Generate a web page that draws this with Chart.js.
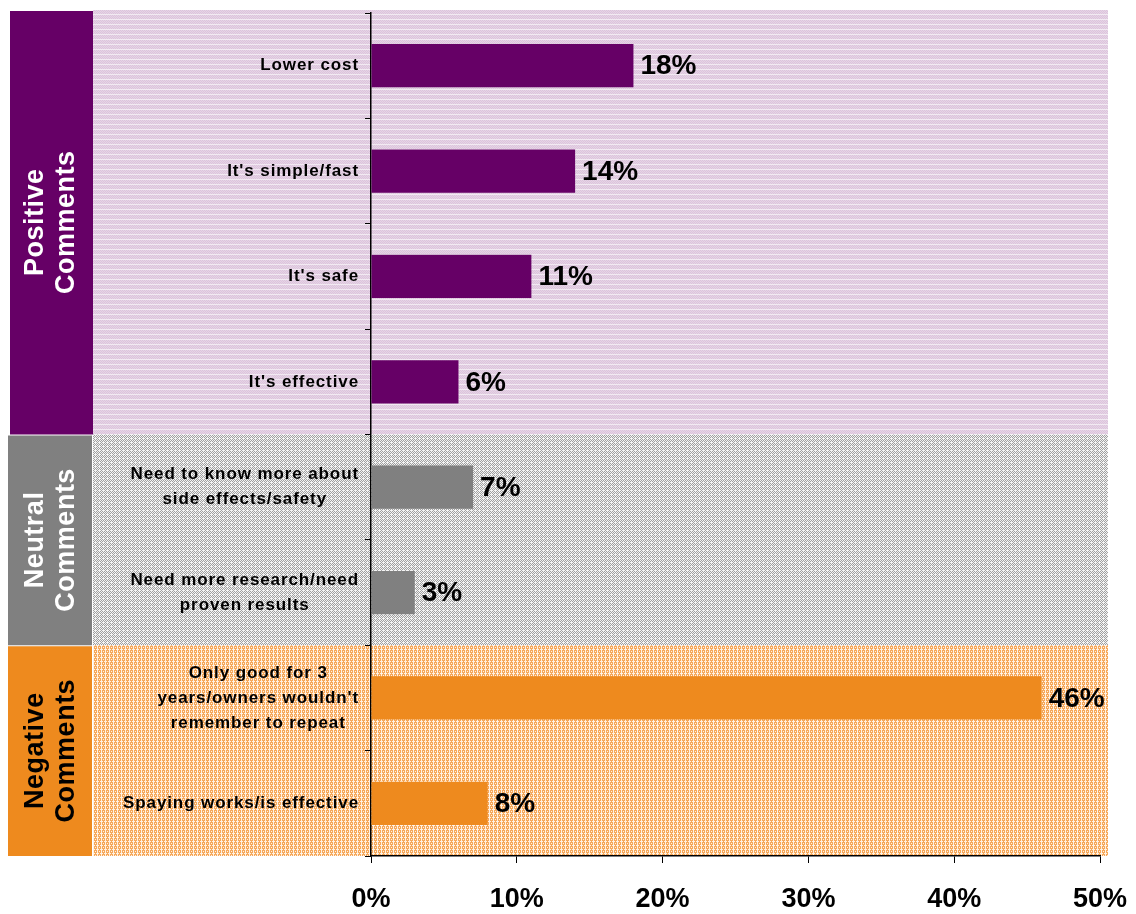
<!DOCTYPE html>
<html lang="en">
<head>
  <meta charset="UTF-8">
  <title>Comments</title>
  <script src="https://cdn.jsdelivr.net/npm/chart.js"></script>
  <style>
    html, body { margin: 0; padding: 0; background: #fff; }
    .wrap { width: 1136px; height: 914px; position: relative; }
  </style>
</head>
<body>
  <div class="wrap"><canvas id="chart"></canvas></div>
  <script>
    // data
    const categories = [
      ['Lower cost'],
      ["It's simple/fast"],
      ["It's safe"],
      ["It's effective"],
      ['Need to know more about', 'side effects/safety'],
      ['Need more research/need', 'proven results'],
      ['Only good for 3', "years/owners wouldn't", 'remember to repeat'],
      ['Spaying works/is effective']
    ];
    const values = [18, 14, 11, 6, 7, 3, 46, 8];
    const categoryGroup = [0, 0, 0, 0, 1, 1, 2, 2];
    const groupNames = ['Positive', 'Neutral', 'Negative'];
    const groupSuffix = 'Comments';
    const xTicks = [0, 10, 20, 30, 40, 50];

    const barColors = ['#660066', '#808080', '#ee8a1e'];
    const boxText = ['#ffffff', '#ffffff', '#000000'];

    // small tiles to imitate the dotted fills
    function makePattern(ctx, rows, colors) {
      const c = document.createElement('canvas');
      c.width = rows[0].length; c.height = rows.length;
      const g = c.getContext('2d');
      rows.forEach((r, y) => {
        for (let x = 0; x < r.length; x++) {
          g.fillStyle = colors[r[x]];
          g.fillRect(x, y, 1, 1);
        }
      });
      return ctx.createPattern(c, 'repeat');
    }

    const canvas = document.getElementById('chart');
    const ctx = canvas.getContext('2d');
    const fills = [
      makePattern(ctx, ['0101', '1010', '0101', '1010', '2222'],
        ['#dcc4dc', '#e6d4e6', '#f2eaf2']),
      makePattern(ctx, ['0101', '1010', '0100', '1010'], ['#f4f4f4', '#a0a0a0']),
      makePattern(ctx, ['0100', '1110', '0100', '0101'], ['#f6a85a', '#fff1e2'])
    ];

    const bandPlugin = {
      id: 'bands',
      beforeDraw(chart) {
        const c = chart.ctx, y = chart.scales.y;
        const half = (y.getPixelForValue(1) - y.getPixelForValue(0)) / 2;
        groupNames.forEach((name, g) => {
          const idx = categoryGroup.map((v, i) => v === g ? i : -1).filter(i => i >= 0);
          const top = y.getPixelForValue(idx[0]) - half;
          const bot = y.getPixelForValue(idx[idx.length - 1]) + half;
          const t = g === 0 ? top - 3 : top;
          c.save();
          c.fillStyle = fills[g];
          c.fillRect(93, t, 1015, bot - t);
          c.fillStyle = barColors[g];
          c.fillRect(g === 0 ? 10 : 8, t + 1, g === 0 ? 83 : 84, bot - t - 1);
          // rotated group label
          c.translate(51, (t + bot) / 2);
          c.rotate(-Math.PI / 2);
          c.fillStyle = boxText[g];
          c.font = 'bold 27px "Liberation Sans", Arial, sans-serif';
          c.letterSpacing = '0.5px';
          c.textAlign = 'center';
          c.textBaseline = 'middle';
          c.fillText(name, 0, -15);
          c.fillText(groupSuffix, 0, 16);
          c.restore();
        });
      }
    };

    const labelPlugin = {
      id: 'labels',
      afterDraw(chart) {
        const c = chart.ctx, y = chart.scales.y;
        c.save();
        c.fillStyle = '#000';
        c.textBaseline = 'middle';
        c.textAlign = 'center';
        c.font = 'bold 17px "Liberation Sans", Arial, sans-serif';
        c.letterSpacing = '0.9px';
        categories.forEach((lines, i) => {
          const w = Math.max(...lines.map(l => c.measureText(l).width));
          const cx = 359 - w / 2;
          const cy = y.getPixelForValue(i);
          lines.forEach((l, k) => {
            c.fillText(l, cx, cy + (k - (lines.length - 1) / 2) * 25);
          });
        });
        c.letterSpacing = '0px';
        // value labels
        c.textAlign = 'left';
        c.font = 'bold 28px "Liberation Sans", Arial, sans-serif';
        chart.getDatasetMeta(0).data.forEach((bar, i) => {
          c.fillText(values[i] + '%', bar.x + 7, bar.y + 1);
        });
        c.restore();
      }
    };

    new Chart(ctx, {
      type: 'bar',
      data: {
        labels: categories,
        datasets: [{
          data: values,
          backgroundColor: categoryGroup.map(g => barColors[g]),
          borderWidth: 0,
          barPercentage: 0.41,
          categoryPercentage: 1
        }]
      },
      options: {
        indexAxis: 'y',
        responsive: true,
        maintainAspectRatio: false,
        animation: false,
        layout: { padding: { top: 13, right: 36, left: 0, bottom: 0 } },
        plugins: { legend: { display: false }, tooltip: { enabled: false } },
        scales: {
          y: {
            offset: true,
            grid: { offset: true, drawOnChartArea: false, tickLength: 6, color: '#000', lineWidth: 1 },
            border: { color: '#000', width: 1.5 },
            ticks: { display: false },
            afterFit(scale) { scale.width = 371; }
          },
          x: {
            min: xTicks[0],
            max: xTicks[xTicks.length - 1],
            afterBuildTicks(scale) { scale.ticks = xTicks.map(v => ({ value: v })); },
            grid: { drawOnChartArea: false, tickLength: 7, color: '#000', lineWidth: 1 },
            border: { color: '#000', width: 1.5 },
            ticks: {
              color: '#000',
              padding: 20,
              font: { family: '"Liberation Sans", Arial, sans-serif', size: 27, weight: 'bold' },
              callback: v => v + '%'
            },
            afterFit(scale) {
              scale.height = 58;
              scale.paddingLeft = 0;
              scale.paddingRight = 0;
            }
          }
        }
      },
      plugins: [bandPlugin, labelPlugin]
    });
  </script>
</body>
</html>
